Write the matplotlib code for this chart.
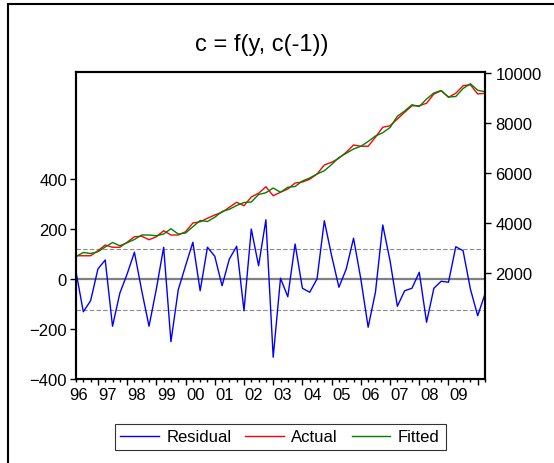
import matplotlib
matplotlib.use("Agg")
import matplotlib.pyplot as plt
from matplotlib.lines import Line2D

plt.rcParams["font.family"] = ["Liberation Sans", "DejaVu Sans"]

# quarterly observations, labels at start of each year
years = ["96", "97", "98", "99", "00", "01", "02", "03", "04", "05", "06", "07", "08", "09"]

residual = [29, -131, -87, 40, 76, -189, -57, 20, 107, -47,
            -189, -40, 127, -251, -43, 53, 147, -47, 127, 91,
            -27, 80, 131, -127, 200, 53, 237, -313, 3, -71,
            140, -37, -53, 0, 233, 93, -33, 40, 163, 0,
            -193, -53, 216, 73, -109, -47, -37, 27, -173, -37,
            -9, -13, 129, 113, -40, -147, -60]

actual = [2690, 2690, 2690, 2890, 3120, 3030, 3030, 3230, 3450, 3470,
          3330, 3450, 3690, 3520, 3520, 3650, 4000, 4050, 4190, 4320,
          4430, 4630, 4830, 4690, 5040, 5190, 5450, 5090, 5230, 5360,
          5600, 5640, 5750, 5960, 6320, 6430, 6590, 6830, 7120, 7070,
          7070, 7430, 7830, 7890, 8160, 8430, 8690, 8690, 8790, 9160,
          9290, 9030, 9190, 9490, 9530, 9160, 9190]

fitted = [2660, 2820, 2780, 2850, 3040, 3220, 3090, 3210, 3340, 3520,
          3520, 3490, 3560, 3770, 3560, 3600, 3850, 4100, 4060, 4230,
          4460, 4550, 4700, 4820, 4840, 5140, 5210, 5400, 5230, 5430,
          5460, 5680, 5800, 5960, 6090, 6340, 6620, 6790, 6960, 7070,
          7260, 7480, 7610, 7820, 8270, 8480, 8730, 8660, 8960, 9200,
          9300, 9040, 9060, 9380, 9570, 9310, 9250]

se_band = 122

fig = plt.figure(figsize=(5.54, 4.64), dpi=100)
ax = fig.add_axes([76 / 554, 84 / 464, 409 / 554, 307 / 464])

n = len(residual)
idx = list(range(n))

# reference lines on residual scale
ax.axhline(0, color="#808080", lw=1.6, zorder=1)
ax.axhline(se_band, color="#8c8c8c", lw=0.8, ls=(0, (4, 2)), zorder=1)
ax.axhline(-se_band, color="#8c8c8c", lw=0.8, ls=(0, (4, 2)), zorder=1)
ax.plot(idx, residual, color="#0000ff", lw=1.0, zorder=3)

ax.set_xlim(0, n - 1)
ax.set_ylim(-400, 828)
ax.set_yticks([-400, -200, 0, 200, 400])
ax.set_xticks(list(range(3, n, 4)))
ax.set_xticks([i for i in idx if (i - 3) % 4 != 0], minor=True)
ax.tick_params(axis="x", which="major", length=4.5, width=1, labelbottom=False)
ax.tick_params(axis="x", which="minor", length=2.5, width=1)
ax.tick_params(axis="y", length=4, width=1, pad=2.5, labelsize=12)
for k, lab in enumerate(years):
    ax.text(4 * k + 0.35, -0.052, lab, transform=ax.get_xaxis_transform(),
            ha="center", va="center", fontsize=12)

ax2 = ax.twinx()
ax2.plot(idx, actual, color="#ff0000", lw=1.0)
ax2.plot(idx, fitted, color="#008000", lw=1.0)
ax2.set_ylim(-2240, 10040)
ax2.set_yticks([2000, 4000, 6000, 8000, 10000])
ax2.tick_params(axis="y", length=4.5, width=1, pad=3, labelsize=12)

for a in (ax, ax2):
    for s in a.spines.values():
        s.set_linewidth(1.5)
        s.set_color("black")

fig.text(262 / 554, 1 - 45 / 464, "c = f(y, c(-1))", ha="center", va="center", fontsize=17)

handles = [Line2D([], [], color="#0000ff", lw=1.0),
           Line2D([], [], color="#ff0000", lw=1.0),
           Line2D([], [], color="#008000", lw=1.0)]
leg = fig.legend(handles, ["Residual", "Actual", "Fitted"], loc="center",
                 bbox_to_anchor=(280 / 554, (464 - 438) / 464), ncol=3,
                 frameon=True, fancybox=False, edgecolor="black", fontsize=12,
                 handlelength=2.3, handletextpad=0.45, columnspacing=0.85,
                 borderpad=0.35, borderaxespad=0)
leg.get_frame().set_linewidth(0.8)

# outer frame of the original screenshot
fig.add_artist(Line2D([8 / 554, 8 / 554], [0, 1 - 5 / 464], transform=fig.transFigure,
                      color="black", lw=1.5))
fig.add_artist(Line2D([8 / 554, 1], [1 - 5 / 464, 1 - 5 / 464], transform=fig.transFigure,
                      color="black", lw=1.5))

fig.savefig("out.png", dpi=100)
